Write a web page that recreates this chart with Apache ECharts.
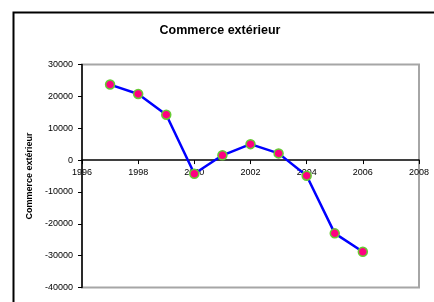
<!DOCTYPE html>
<html><head><meta charset="utf-8">
<script src="https://cdn.jsdelivr.net/npm/echarts@6/dist/echarts.min.js"></script>
<style>html,body{margin:0;padding:0;background:#fff}#c{width:434px;height:302px}</style>
</head><body><div id="c"></div>
<script>
var years = [1997, 1998, 1999, 2000, 2001, 2002, 2003, 2004, 2005, 2006];
var values = [23700, 20750, 14250, -4300, 1500, 5000, 2100, -4900, -23000, -28800];
var titleText = "Commerce extérieur";
var yTitle = "Commerce extérieur";

var data = years.map(function (y, i) { return [y, values[i]]; });
var font = "Liberation Sans, Arial, sans-serif";
var yMin = -40000, yMax = 30000;
var gridTop = 64.5, gridBottom = 14.5, H = 302;
var plotH = H - gridTop - gridBottom;
var zeroOffset = -plotH * (0 - yMin) / (yMax - yMin);
var chart = echarts.init(document.getElementById('c'), null, {renderer: 'canvas'});
chart.setOption({
  animation: false,
  backgroundColor: '#fff',
  title: {
    text: titleText, left: 215, top: 19, textAlign: 'center',
    textStyle: {fontFamily: font, fontSize: 12.5, fontWeight: 'bold', color: '#000'}
  },
  graphic: [{
    type: 'rect', left: 11, top: 10, shape: {width: 440, height: 310},
    style: {fill: 'none', stroke: '#000', lineWidth: 2}, silent: true
  }],
  grid: {left: 82, right: 15, top: gridTop, bottom: gridBottom, show: true,
    borderColor: '#a6a6a6', borderWidth: 2, backgroundColor: 'transparent'},
  xAxis: {
    type: 'value', min: 1996, max: 2008, interval: 2,
    offset: zeroOffset,
    axisLine: {onZero: false, lineStyle: {color: '#000', width: 1.5}},
    axisTick: {show: true, length: 4, lineStyle: {color: '#000'}},
    axisLabel: {margin: 8, fontFamily: font, fontSize: 9, color: '#000', formatter: function (v) { return String(v); }},
    splitLine: {show: false}
  },
  yAxis: {
    type: 'value', min: yMin, max: yMax, interval: 10000,
    name: yTitle, nameLocation: 'middle', nameRotate: 90, nameGap: 45,
    nameTextStyle: {fontFamily: font, fontSize: 9, fontWeight: 'bold', color: '#000'},
    axisLine: {show: true, lineStyle: {color: '#000', width: 1.5}},
    axisTick: {show: true, length: 4, lineStyle: {color: '#000'}},
    axisLabel: {margin: 9, fontFamily: font, fontSize: 9, color: '#000', formatter: function (v) { return String(v); }},
    splitLine: {show: false}
  },
  series: [{
    type: 'line', data: data,
    lineStyle: {color: '#0000ff', width: 2.5},
    symbol: 'circle', symbolSize: 9,
    itemStyle: {color: '#ff0080', borderColor: '#66cc33', borderWidth: 1.5}
  }]
});
</script></body></html>
